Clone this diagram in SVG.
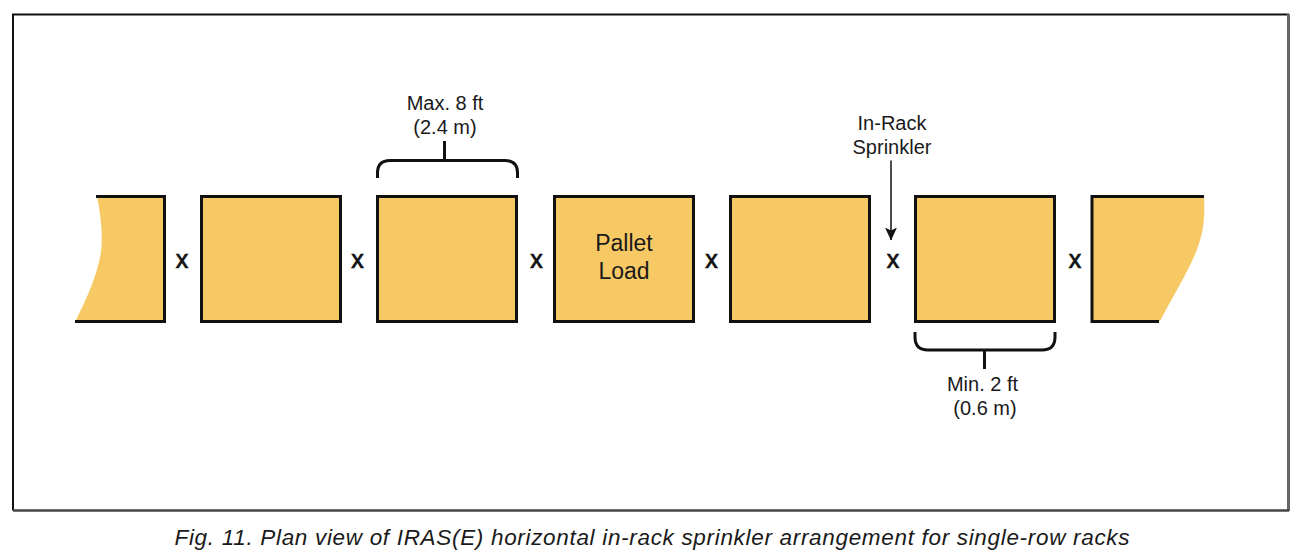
<svg xmlns="http://www.w3.org/2000/svg" width="1302" height="554" viewBox="0 0 1302 554">
<style>
.fill{fill:#f7c964;stroke:none}
.box{fill:#f7c964;stroke:#111;stroke-width:3}
.ln{fill:none;stroke:#111;stroke-width:3}
.t{font-family:"Liberation Sans",Arial,sans-serif;fill:#1a1a1a;text-anchor:middle}
.lab{font-size:20px}
.x{font-size:25px;fill:#111;stroke:#111;stroke-width:.7}
</style>
<defs><marker id="ah" markerUnits="userSpaceOnUse" markerWidth="13" markerHeight="12" refX="12.500" refY="6" orient="auto" viewBox="0 0 13 12"><path d="M0 0L3 6L0 12L13 6Z" fill="#111"/></marker></defs>
<rect width="1302" height="554" fill="#fff"/>
<g id="frame">
<path d="M13 510.500V14.500H1289" fill="none" stroke="#111" stroke-width="2"/>
<path d="M1288.500 14V511" fill="none" stroke="#666" stroke-width="3"/>
<path d="M13 510.500H1289" fill="none" stroke="#444" stroke-width="2.500"/>
</g>
<g id="load-left">
<path class="fill" d="M97 196C101 216 103 236 101 252C97 276 87 298 76 320H164V196Z"/>
<path class="ln" d="M96 196.500H164.500V321.500H75"/>
</g>
<g id="load-2"><rect class="box" x="201.500" y="196.500" width="139" height="125"/></g>
<g id="load-3"><rect class="box" x="377.500" y="196.500" width="139" height="125"/></g>
<g id="load-4"><rect class="box" x="554.500" y="196.500" width="139" height="125"/>
<text class="t" x="624" y="250.500" font-size="23">Pallet</text><text class="t" x="624" y="278.500" font-size="23">Load</text></g>
<g id="load-5"><rect class="box" x="730.500" y="196.500" width="139" height="125"/></g>
<g id="load-6"><rect class="box" x="915.500" y="196.500" width="139" height="125"/></g>
<g id="load-right">
<path class="fill" d="M1092 196H1204C1205 218 1204 232 1196 252C1186 276 1172 298 1160 321H1092Z"/>
<path class="ln" d="M1204 196.500H1092V321.500H1159"/>
</g>
<g id="sprinklers">
<text class="t x" x="182" y="268">x</text>
<text class="t x" x="357.500" y="268">x</text>
<text class="t x" x="536.500" y="268">x</text>
<text class="t x" x="711.500" y="268">x</text>
<text class="t x" x="893" y="268">x</text>
<text class="t x" x="1075" y="268">x</text>
</g>
<g id="connectors">
<path class="ln" d="M377.500 178V173Q377.500 160.500 390 160.500H505Q517.500 160.500 517.500 173V178M444.500 141V160"/>
<path class="ln" d="M915 332V337Q915 350 928 350H1042Q1055 350 1055 337V332M984.500 350V369"/>
<path d="M891 160.500V240" fill="none" stroke="#111" stroke-width="1.500" marker-end="url(#ah)"/>
</g>
<g id="labels">
<text class="t lab" x="445" y="110">Max. 8 ft</text>
<text class="t lab" x="445" y="134">(2.4 m)</text>
<text class="t lab" x="892" y="130">In-Rack</text>
<text class="t lab" x="892" y="154">Sprinkler</text>
<text class="t lab" x="982.500" y="391">Min. 2 ft</text>
<text class="t lab" x="985" y="415">(0.6 m)</text>
</g>
<text id="caption" class="t" x="652" y="545" font-size="22.500" font-style="italic" fill="#333" textLength="955" lengthAdjust="spacing">Fig. 11. Plan view of IRAS(E) horizontal in-rack sprinkler arrangement for single-row racks</text>
</svg>
